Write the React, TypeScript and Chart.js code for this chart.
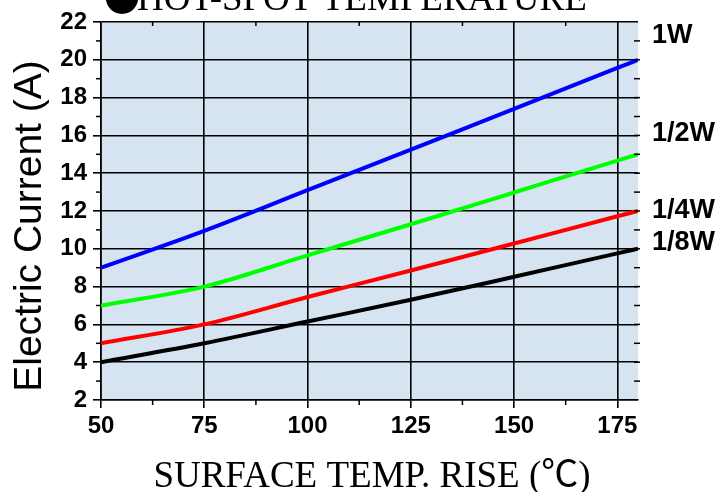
import React, { useEffect, useRef } from "react";
import { Chart, registerables } from "chart.js";

Chart.register(...registerables);

const temps = [50, 75, 100, 125, 150, 175, 180];
const seriesNames = ["1W", "1/2W", "1/4W", "1/8W"];
const current1W = [9, 10.95, 13.1, 15.25, 17.4, 19.57, 20];
const currentHalfW = [7, 8, 9.65, 11.3, 12.98, 14.67, 15];
const currentQuarterW = [5, 6, 7.45, 8.85, 10.28, 11.72, 12];
const currentEighthW = [4, 5, 6.15, 7.3, 8.52, 9.76, 10];
const seriesColors = ["#0000ff", "#00ff00", "#ff0000", "#000000"];
const labelYValues = [21.3, 16.1, 12.0, 10.35];
const xTickValues = [50, 75, 100, 125, 150, 175];
const titleMark = "●";
const chartTitle = "HOT-SPOT TEMPERATURE";
const xTitle = "SURFACE TEMP. RISE (℃)";
const yTitle = "Electric Current (A)";

const extrasPlugin = {
  id: "extras",
  beforeDraw(chart: any) {
    const { ctx, chartArea } = chart;
    ctx.save();
    ctx.fillStyle = "#d6e4f2";
    ctx.fillRect(chartArea.left, chartArea.top, chartArea.right - chartArea.left, chartArea.bottom - chartArea.top);
    ctx.restore();
  },
  afterDraw(chart: any) {
    const { ctx, chartArea } = chart;
    const xs = chart.scales.x;
    const ys = chart.scales.y;
    ctx.save();
    ctx.strokeStyle = "#000";
    ctx.lineWidth = 1.5;
    for (let v = 3; v <= 21; v += 2) {
      const py = ys.getPixelForValue(v);
      ctx.beginPath();
      ctx.moveTo(chartArea.left - 5, py);
      ctx.lineTo(chartArea.left, py);
      ctx.stroke();
    }
    for (let v = 3; v <= 21; v += 1) {
      const py = ys.getPixelForValue(v);
      ctx.beginPath();
      ctx.moveTo(chartArea.right - 4, py);
      ctx.lineTo(chartArea.right + 2, py);
      ctx.stroke();
    }
    for (let v = 62.5; v < 180; v += 25) {
      const px = xs.getPixelForValue(v);
      ctx.beginPath();
      ctx.moveTo(px, chartArea.bottom);
      ctx.lineTo(px, chartArea.bottom + 5);
      ctx.moveTo(px, chartArea.top);
      ctx.lineTo(px, chartArea.top + 4);
      ctx.stroke();
    }
    ctx.fillStyle = "#000";
    ctx.font = "bold 27px 'Liberation Sans', Arial, sans-serif";
    ctx.textAlign = "left";
    ctx.textBaseline = "middle";
    seriesNames.forEach((n, i) => {
      ctx.fillText(n, chartArea.right + 14, ys.getPixelForValue(labelYValues[i]));
    });
    // title
    ctx.textBaseline = "alphabetic";
    ctx.font = "36px 'Noto Sans CJK JP', sans-serif";
    ctx.textAlign = "left";
    ctx.fillText(titleMark, 104, 12);
    ctx.font = "37px 'Liberation Serif', 'Times New Roman', serif";
    ctx.fillText(chartTitle, 137, 10);
    // x title
    ctx.textAlign = "center";
    ctx.font = "37px 'Liberation Serif', 'Times New Roman', 'Noto Sans CJK SC', serif";
    ctx.fillText(xTitle, 372, 487);
    // y title
    ctx.translate(30, 226);
    ctx.rotate(-Math.PI / 2);
    ctx.font = "39px 'Liberation Sans', Arial, sans-serif";
    ctx.textBaseline = "middle";
    ctx.fillText(yTitle, 0, 0);
    ctx.restore();
  },
};

export default function App() {
  const ref = useRef<HTMLCanvasElement>(null);
  useEffect(() => {
    if (!ref.current) return;
    const mk = (data: number[], i: number) => ({
      label: seriesNames[i],
      data: temps.map((t, k) => ({ x: t, y: data[k] })),
      borderColor: seriesColors[i],
      backgroundColor: seriesColors[i],
      borderWidth: 4,
      pointRadius: 0,
      cubicInterpolationMode: "monotone" as const,
      fill: false,
    });
    const chart = new Chart(ref.current, {
      type: "line",
      data: {
        datasets: [
          mk(current1W, 0),
          mk(currentHalfW, 1),
          mk(currentQuarterW, 2),
          mk(currentEighthW, 3),
        ],
      },
      options: {
        animation: false,
        responsive: true,
        maintainAspectRatio: false,
        layout: { padding: { top: 22, right: 80, left: 0, bottom: 0 } },
        plugins: { legend: { display: false }, tooltip: { enabled: false }, title: { display: false } },
        scales: {
          x: {
            type: "linear",
            min: 50,
            max: 180,
            afterFit: (s: any) => { s.height = 92; },
            afterBuildTicks: (s: any) => { s.ticks = xTickValues.map((v) => ({ value: v })); },
            ticks: {
              color: "#000",
              font: { family: "'Liberation Sans', Arial, sans-serif", size: 24, weight: "bold" },
              padding: 4,
              maxRotation: 0,
              autoSkip: false,
            },
            grid: { color: "#000", lineWidth: 1.6, drawTicks: true, tickLength: 8, tickColor: "#000" },
            border: { color: "#000", width: 1.6 },
          },
          y: {
            type: "linear",
            min: 2,
            max: 22,
            afterFit: (s: any) => { s.width = 101; },
            ticks: {
              stepSize: 2,
              color: "#000",
              font: { family: "'Liberation Sans', Arial, sans-serif", size: 24, weight: "bold" },
              padding: 6,
            },
            grid: { color: "#000", lineWidth: 1.6, drawTicks: true, tickLength: 8, tickColor: "#000" },
            border: { color: "#000", width: 1.6 },
          },
        },
      },
      plugins: [extrasPlugin],
    });
    return () => chart.destroy();
  }, []);
  return (
    <div style={{ position: "absolute", left: 0, top: 0, width: 718, height: 492 }}>
      <canvas ref={ref} />
    </div>
  );
}
